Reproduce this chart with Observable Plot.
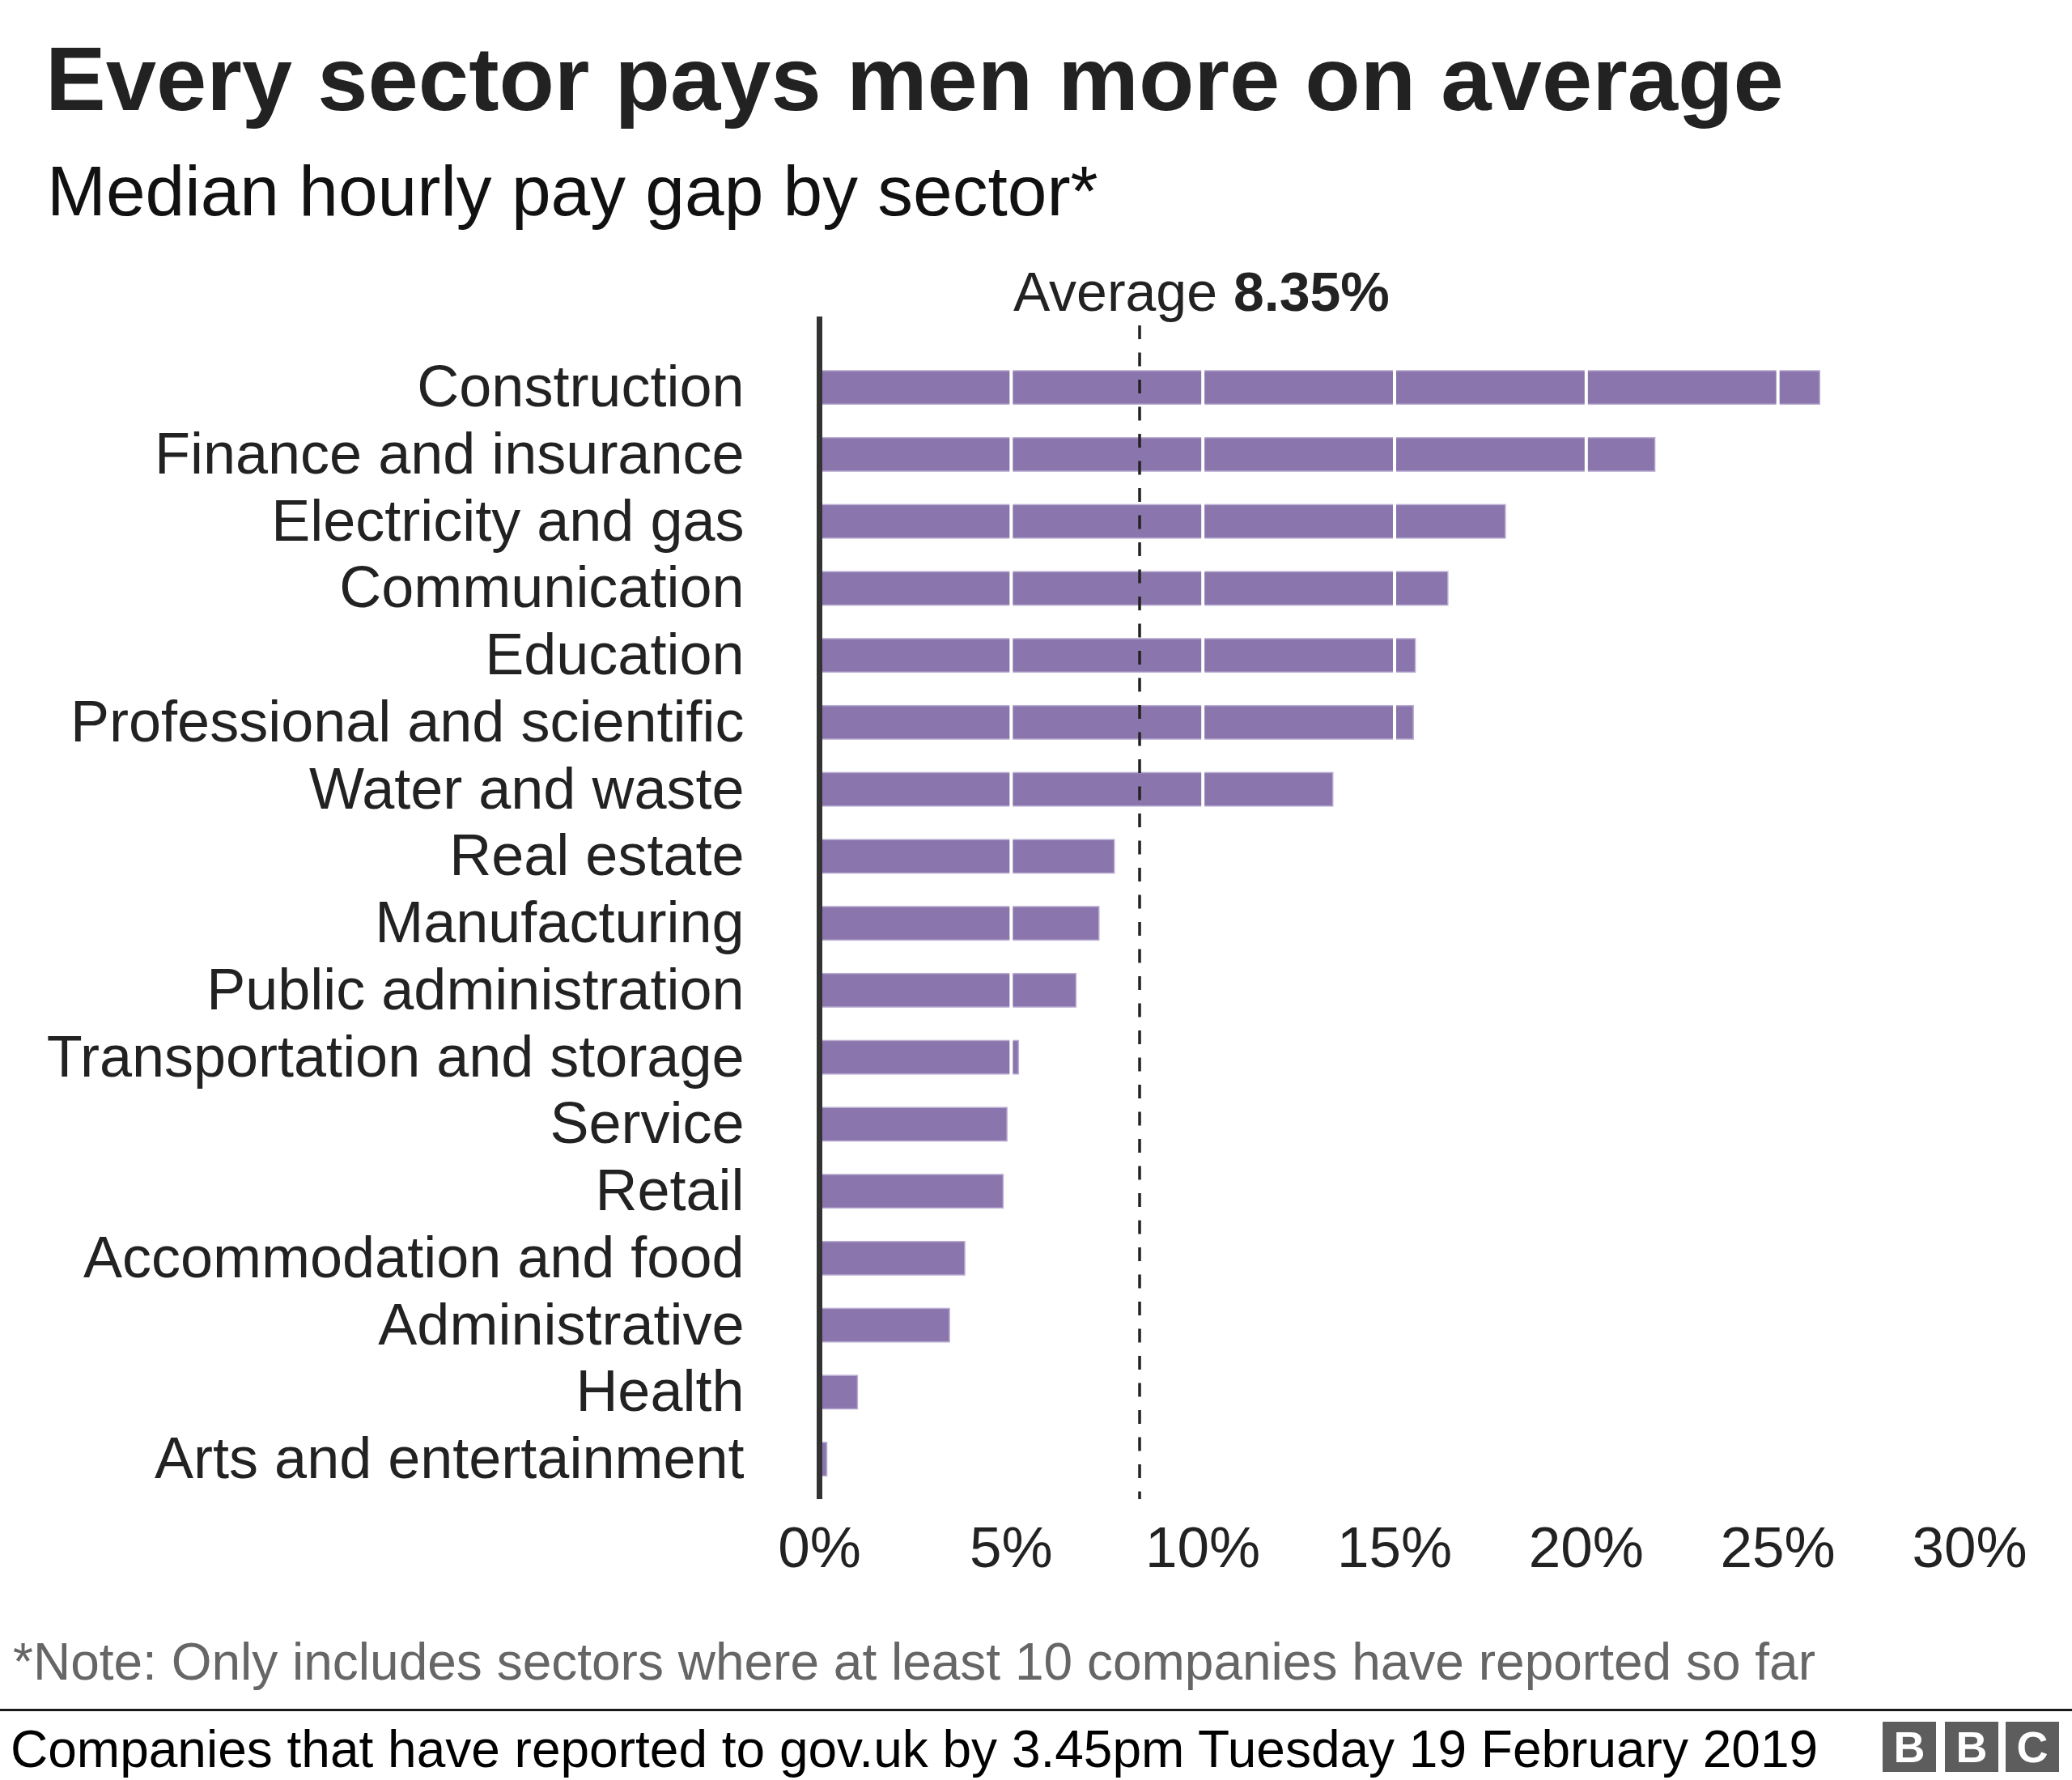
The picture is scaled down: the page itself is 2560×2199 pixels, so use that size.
<!DOCTYPE html>
<html>
<head>
<meta charset="utf-8">
<script src="https://cdn.jsdelivr.net/npm/d3@7"></script>
<script src="https://cdn.jsdelivr.net/npm/@observablehq/plot@0.6"></script>
<style>
  html, body { margin: 0; padding: 0; background: #fff; }
  body { width: 2560px; height: 2199px; position: relative; overflow: hidden;
         font-family: "Liberation Sans", Arial, Helvetica, sans-serif; }
  .abs { position: absolute; white-space: nowrap; }
  #title { left: 56px; top: 42px; font-size: 112px; line-height: 112px; font-weight: bold; color: #222; }
  #subtitle { left: 58px; top: 193px; font-size: 87.5px; line-height: 87px; color: #111; }
  #chart { left: 0; top: 300px; }
  #note { left: 16px; top: 2021px; font-size: 64px; line-height: 64px; color: #666; }
  #sep { left: 0; top: 2111px; width: 2560px; height: 3px; background: #1a1a1a; }
  #footer { left: 13px; top: 2129px; font-size: 64px; line-height: 64px; color: #000; }
  .bbc { top: 2127px; width: 66px; height: 62px; background: #5d5d5d; color: #fff;
         font-weight: bold; font-size: 54px; line-height: 62px; text-align: center; }
</style>
</head>
<body>
<div id="title" class="abs">Every sector pays men more on average</div>
<div id="subtitle" class="abs">Median hourly pay gap by sector*</div>
<div id="chart" class="abs"></div>
<div id="note" class="abs">*Note: Only includes sectors where at least 10 companies have reported so far</div>
<div id="sep" class="abs"></div>
<div id="footer" class="abs">Companies that have reported to gov.uk by 3.45pm Tuesday 19 February 2019</div>
<div class="abs bbc" style="left:2326px">B</div>
<div class="abs bbc" style="left:2403px">B</div>
<div class="abs bbc" style="left:2478px">C</div>
<script>
const sectors = [
  "Construction",
  "Finance and insurance",
  "Electricity and gas",
  "Communication",
  "Education",
  "Professional and scientific",
  "Water and waste",
  "Real estate",
  "Manufacturing",
  "Public administration",
  "Transportation and storage",
  "Service",
  "Retail",
  "Accommodation and food",
  "Administrative",
  "Health",
  "Arts and entertainment"
];
const gaps = [26.1, 21.8, 17.9, 16.4, 15.55, 15.5, 13.4, 7.7, 7.3, 6.7, 5.2, 4.9, 4.8, 3.8, 3.4, 1.0, 0.2];
const average = 8.35;
const xTicks = [0, 5, 10, 15, 20, 25, 30];
const gridValues = [5, 10, 15, 20, 25];

const data = sectors.map((s, i) => ({sector: s, gap: gaps[i]}));

const chart = Plot.plot({
  width: 2560,
  height: 1680,
  marginTop: 91,
  marginBottom: 128,
  marginLeft: 1012,
  marginRight: 127,
  x: {domain: [0, 30]},
  y: {type: "band", domain: sectors, paddingInner: 0.5, paddingOuter: 0.578, align: 0.7, round: false},
  style: {fontFamily: '"Liberation Sans", Arial, Helvetica, sans-serif', fontSize: "72px", background: "transparent", overflow: "visible", color: "#222"},
  marks: [
    Plot.barX(data, {x: "gap", y: "sector", fill: "#8a76ad", stroke: "#b9acd1", strokeWidth: 1.5}),
    Plot.ruleX(gridValues, {stroke: "white", strokeWidth: 4}),
    Plot.ruleX([average], {stroke: "#222", strokeWidth: 3.5, strokeDasharray: "17 16.5", insetTop: 11}),
    Plot.ruleX([0], {stroke: "#333", strokeWidth: 7}),
    Plot.axisY({tickSize: 0, tickPadding: 93, fontSize: 72, fill: "#222", label: null}),
    Plot.axisX({ticks: xTicks, tickSize: 0, tickPadding: 33, fontSize: 71, fill: "#222", label: null, tickFormat: d => d + "%"}),
    Plot.text([average], {x: d => d, text: () => "Average", frameAnchor: "top", lineAnchor: "bottom", textAnchor: "end", dx: 96, dy: -8, fontSize: 68, fill: "#222"}),
    Plot.text([average], {x: d => d, text: d => d + "%", frameAnchor: "top", lineAnchor: "bottom", textAnchor: "start", dx: 116, dy: -8, fontSize: 68, fontWeight: "bold", fill: "#222"})
  ]
});
document.getElementById("chart").appendChild(chart);
</script>
</body>
</html>
